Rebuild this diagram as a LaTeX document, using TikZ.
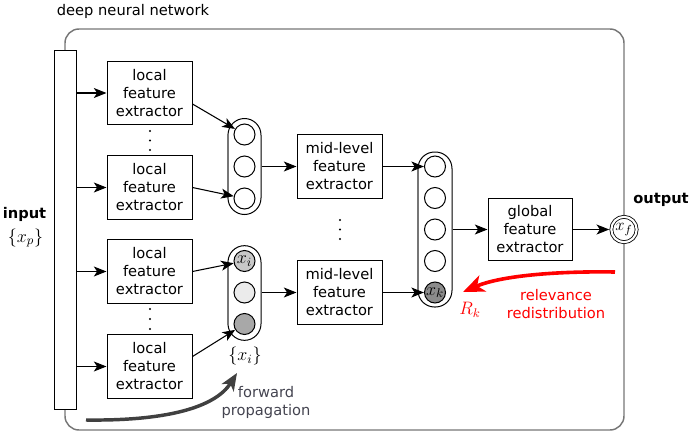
\RequirePackage{fix-cm}
\documentclass[tikz,border=0pt]{standalone}
\usepackage{fontspec}
\setmainfont{DejaVu Sans}
\usetikzlibrary{arrows.meta,calc}
\definecolor{framegray}{HTML}{767676}
\definecolor{fwdgray}{HTML}{404040}
\definecolor{fwdtext}{HTML}{444450}
\definecolor{nlight}{HTML}{C8C8C8}
\definecolor{nvlight}{HTML}{EBEBEB}
\definecolor{nmid}{HTML}{A8A8A8}
\definecolor{ndark}{HTML}{8C8C8C}
\begin{document}
\begin{tikzpicture}[x=0.75pt,y=-0.75pt,
  lbl/.style={font=\fontsize{11}{13.5}\selectfont},
  boldlbl/.style={font=\fontsize{11}{13.5}\selectfont\bfseries},
  mathlbl/.style={font=\fontsize{13.5}{15}\selectfont},
  frame/.style={draw=framegray, line width=1.1pt, rounded corners=10.5pt},
  fbox/.style={draw, line width=0.75pt, align=center, minimum width=63.75pt,
    minimum height=47.5pt, inner sep=0pt, font=\fontsize{11}{13.5}\selectfont},
  capsule/.style={draw, line width=0.75pt, rounded corners=12.4pt,
    minimum width=24.75pt, inner sep=0pt},
  capedge/.style={draw=framegray, line width=1.1pt},
  neuron/.style={draw, circle, line width=0.75pt, minimum size=15.75pt,
    inner sep=0pt, font=\fontsize{13.5}{15}\selectfont},
  outn/.style={draw, circle, double, double distance=1.6pt, line width=0.6pt,
    fill=white, minimum size=19pt, inner sep=0pt, font=\fontsize{12.5}{14}\selectfont},
  arr/.style={line width=0.8pt, -{Stealth[length=9.5pt,width=7.5pt,inset=2.5pt]}},
  relarr/.style={draw=red, line width=2.7pt, -{Stealth[length=16pt,width=13pt,inset=4.5pt]}},
  fwdarr/.style={draw=fwdgray, line width=2.6pt, -{Stealth[length=13pt,width=10.5pt,inset=3.5pt]}},
  dotmark/.style={fill=black},
]
\useasboundingbox (0,0) rectangle (694,447);
% outer frame
\draw[frame] (65,29) rectangle (624,430);
\node[lbl] (title) at (133,11) {deep neural network};
% input bar
\node[draw, line width=0.75pt, fill=white, minimum width=16.5pt,
  minimum height=269.25pt, inner sep=0pt] (bar) at (65,229.5) {};
\node[boldlbl] (inlbl) at (24.5,214) {input};
\node[mathlbl] (xp) at (25.5,238) {$\{x_p\}$};
% local feature extractors
\node[fbox] (lb1) at (149.5,93) {local\\feature\\extractor};
\node[fbox] (lb2) at (149.5,187.5) {local\\feature\\extractor};
\node[fbox] (lb3) at (149.5,271.5) {local\\feature\\extractor};
\node[fbox] (lb4) at (149.5,366.5) {local\\feature\\extractor};
\foreach \y in {131,140.5,150} \fill[dotmark] (150,\y) circle (0.9pt);
\foreach \y in {309,319,329} \fill[dotmark] (150,\y) circle (0.9pt);
% capsule 1a
\node[capsule, minimum height=72pt] (cap1a) at (244.5,166.5) {};
\draw[capedge] ([xshift=0.4pt,yshift=-12pt]cap1a.north west) -- ([xshift=0.4pt,yshift=12pt]cap1a.south west);
\node[neuron] (c11) at (244.5,134.5) {};
\node[neuron] (c12) at (244.5,166.5) {};
\node[neuron] (c13) at (244.5,198.5) {};
% capsule 1b
\node[capsule, minimum height=71pt] (cap1b) at (244.5,293) {};
\draw[capedge] ([xshift=0.4pt,yshift=-12pt]cap1b.north west) -- ([xshift=0.4pt,yshift=12pt]cap1b.south west);
\node[neuron, fill=nlight] (c21) at (244.5,261) {$x_i$};
\node[neuron, fill=nvlight] (c22) at (244.5,292.5) {};
\node[neuron, fill=nmid] (c23) at (244.5,324) {};
\node[mathlbl] (xi) at (245,356) {$\{x_i\}$};
% mid-level
\node[fbox, minimum height=48pt] (mb1) at (339.5,166.5) {mid-level\\feature\\extractor};
\node[fbox, minimum height=48pt] (mb2) at (339.5,292.5) {mid-level\\feature\\extractor};
\foreach \y in {220,229.5,239} \fill[dotmark] (340,\y) circle (0.9pt);
% capsule 2
\node[capsule, minimum width=25.5pt, minimum height=116.25pt] (cap2) at (435,229.5) {};
\draw[capedge] ([xshift=0.4pt,yshift=-12pt]cap2.north west) -- ([xshift=0.4pt,yshift=12pt]cap2.south west);
\node[neuron] (c31) at (435,166.5) {};
\node[neuron] (c32) at (435,198) {};
\node[neuron] (c33) at (435,229.5) {};
\node[neuron] (c34) at (435,261) {};
\node[neuron, fill=ndark] (c35) at (435,292.5) {$x_k$};
% global
\node[fbox, minimum width=63pt, minimum height=46.5pt] (gb) at (530,229.5) {global\\feature\\extractor};
% output
\node[outn] (out) at (624,229.5) {$x_f$};
\node[boldlbl] (outlbl) at (661,200) {output};
% connectors
\draw[arr] (bar.east |- lb1) -- (lb1);
\draw[arr] (bar.east |- lb2) -- (lb2);
\draw[arr] (bar.east |- lb3) -- (lb3);
\draw[arr] (bar.east |- lb4) -- (lb4);
\draw[arr] ([yshift=-8.25pt]lb1.east) -- (c11);
\draw[arr] (lb2.east) -- (c13);
\draw[arr] (lb3.east) -- (c21);
\draw[arr] ([yshift=7.5pt]lb4.east) -- (c23);
\draw[arr] (cap1a) -- (mb1);
\draw[arr] (cap1b.east |- mb2) -- (mb2);
\draw[arr] (mb1) -- (c31);
\draw[arr] (mb2) -- (c35);
\draw[arr] (cap2) -- (gb);
\draw[arr, shorten >=1.3pt] (gb) -- (out);
% relevance redistribution
\coordinate (rs) at (615,272);
\coordinate (rt) at (463,292);
\draw[relarr] (rs) .. controls (555,271) and (500,276) .. (rt);
\node[lbl, text=red, align=center] (rel) at (556,304) {relevance\\redistribution};
\node[text=red, font=\fontsize{13.5}{15}\selectfont] (rk) at (470,310) {$R_k$};
% forward propagation
\coordinate (fs) at (86,420);
\coordinate (ft) at (237,373);
\draw[fwdarr] (fs) .. controls (165,421) and (215,408) .. (ft);
\node[font=\fontsize{11}{14}\selectfont, text=fwdtext, align=center] (fw) at (266,402.5) {forward\\propagation};
\end{tikzpicture}
\end{document}
